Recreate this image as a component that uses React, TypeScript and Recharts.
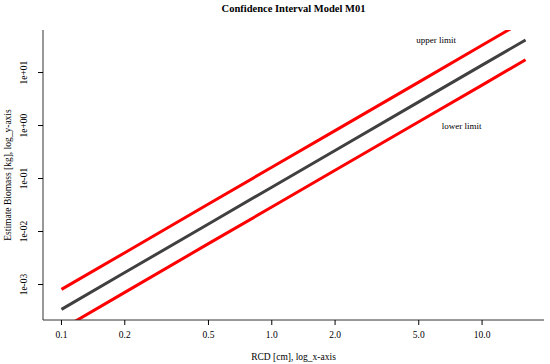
import React from "react";
import { LineChart, Line, XAxis, YAxis, ReferenceDot, Label } from "recharts";

// values
const rcd = [0.1, 0.2, 0.5, 1, 2, 5, 10, 16.1];
const fitted = [3.4e-4, 1.68e-3, 0.0139, 0.0686, 0.338, 2.79, 13.8, 41.2];
const upper = [8.1e-4, 3.98e-3, 0.033, 0.163, 0.8, 6.6, 32.7, 97.6];
const lower = [1.43e-4, 7.1e-4, 5.9e-3, 0.029, 0.143, 1.18, 5.8, 17.4];

const xTicks = [0.1, 0.2, 0.5, 1, 2, 5, 10];
const xTickLabels = ["0.1", "0.2", "0.5", "1.0", "2.0", "5.0", "10.0"];
const yTicks = [0.001, 0.01, 0.1, 1, 10];
const yTickLabels = ["1e-03", "1e-02", "1e-01", "1e+00", "1e+01"];

const data = rcd.map((x, i) => ({ x, fit: fitted[i], up: upper[i], low: lower[i] }));

const X_DOMAIN: [number, number] = [0.0817, 19.7];
const Y_DOMAIN: [number, number] = [2.14e-4, 63.5];
const FONT = "'Liberation Serif', 'Times New Roman', serif";
const BOX = { stroke: "#333", strokeWidth: 1 };

const XTick = (props: any) => {
  const { x, y, payload } = props;
  const i = xTicks.indexOf(payload.value);
  return (
    <text x={x} y={y + 11} textAnchor="middle" fontSize={9.5} fontFamily={FONT} fill="#000">
      {xTickLabels[i]}
    </text>
  );
};

const YTick = (props: any) => {
  const { x, y, payload } = props;
  const i = yTicks.indexOf(payload.value);
  return (
    <text
      x={x - 9}
      y={y}
      textAnchor="middle"
      fontSize={9.5}
      fontFamily={FONT}
      fill="#000"
      transform={`rotate(-90, ${x - 9}, ${y})`}
    >
      {yTickLabels[i]}
    </text>
  );
};

export default function App() {
  return (
    <div style={{ position: "absolute", left: 0, top: 0, width: 550, height: 364, background: "#fff" }}>
      <div
        style={{
          position: "absolute",
          left: 0,
          width: 587,
          top: 3,
          textAlign: "center",
          fontFamily: FONT,
          fontWeight: "bold",
          fontSize: 10.5,
        }}
      >
        Confidence Interval Model M01
      </div>
      <LineChart width={550} height={364} data={data} margin={{ top: 30, right: 6, left: 0, bottom: 0 }}>
        <XAxis
          dataKey="x"
          type="number"
          scale="log"
          domain={X_DOMAIN}
          allowDataOverflow
          ticks={xTicks}
          interval={0}
          height={44}
          axisLine={BOX}
          tickSize={5}
          tickLine={{ stroke: "#000" }}
          tick={<XTick />}
        >
          <Label
            value="RCD [cm], log_x-axis"
            position="insideBottom"
            offset={4}
            style={{ fontFamily: FONT, fontSize: 9.5, fill: "#000" }}
          />
        </XAxis>
        <XAxis
          xAxisId="top"
          orientation="top"
          dataKey="x"
          type="number"
          scale="log"
          domain={X_DOMAIN}
          allowDataOverflow
          height={0}
          axisLine={BOX}
          tick={false}
          tickLine={false}
        />
        <YAxis
          type="number"
          scale="log"
          domain={Y_DOMAIN}
          allowDataOverflow
          ticks={yTicks}
          interval={0}
          width={43}
          axisLine={BOX}
          tickSize={5}
          tickLine={{ stroke: "#000" }}
          tick={<YTick />}
        >
          <Label
            value="Estimate Biomass [kg], log_y-axis"
            angle={-90}
            position="insideLeft"
            offset={8}
            style={{ fontFamily: FONT, fontSize: 9.5, fill: "#000", textAnchor: "middle" }}
          />
        </YAxis>
        <YAxis
          yAxisId="right"
          orientation="right"
          type="number"
          scale="log"
          domain={Y_DOMAIN}
          allowDataOverflow
          width={0}
          axisLine={BOX}
          tick={false}
          tickLine={false}
        />
        <Line dataKey="up" stroke="#ff0000" strokeWidth={3} dot={false} isAnimationActive={false} />
        <Line dataKey="fit" stroke="#404040" strokeWidth={3} dot={false} isAnimationActive={false} />
        <Line dataKey="low" stroke="#ff0000" strokeWidth={3} dot={false} isAnimationActive={false} />
        <ReferenceDot x={6.04} y={40.6} r={0} fill="none" stroke="none">
          <Label value="upper limit" position="center" style={{ fontFamily: FONT, fontSize: 9, fill: "#000" }} />
        </ReferenceDot>
        <ReferenceDot x={8.0} y={0.973} r={0} fill="none" stroke="none">
          <Label value="lower limit" position="center" style={{ fontFamily: FONT, fontSize: 9, fill: "#000" }} />
        </ReferenceDot>
      </LineChart>
    </div>
  );
}
